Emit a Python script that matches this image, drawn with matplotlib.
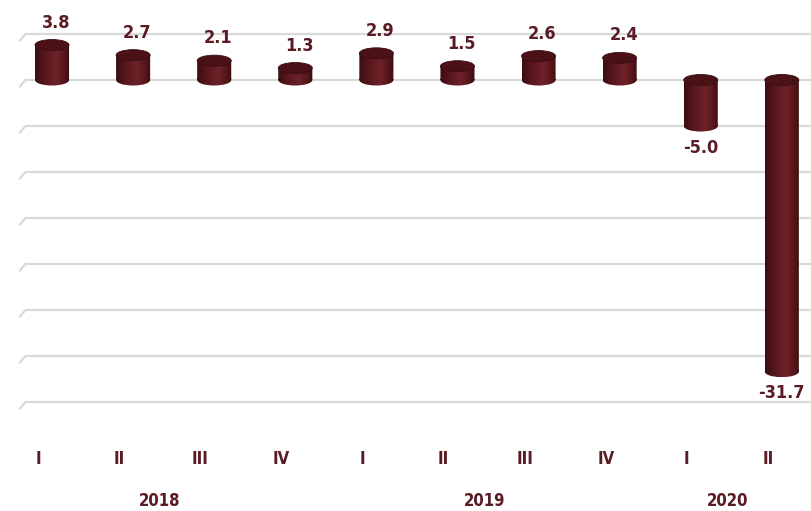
import numpy as np
import matplotlib
matplotlib.use('Agg')
import matplotlib.pyplot as plt
from matplotlib.patches import Ellipse, PathPatch
from matplotlib.path import Path
from matplotlib.transforms import Affine2D, blended_transform_factory
from matplotlib.colors import LinearSegmentedColormap

# data
quarters = ['I', 'II', 'III', 'IV', 'I', 'II', 'III', 'IV', 'I', 'II']
values = [3.8, 2.7, 2.1, 1.3, 2.9, 1.5, 2.6, 2.4, -5.0, -31.7]
years = ['2018', '2019', '2020']
year_centre = [1.5, 5.5, 8.5]
grid_vals = [5, 0, -5, -10, -15, -20, -25, -30, -35]

text_col = '#5a1c24'
fonts = ['DejaVu Sans']
body_cmap = LinearSegmentedColormap.from_list(
    'cyl', [(0, '#3a0d11'), (0.3, '#5a181e'), (0.6, '#6e2228'), (0.85, '#561619'), (1, '#380c10')])

fig = plt.figure(figsize=(8.11, 5.11), dpi=100)
ax = fig.add_axes([20/811, 1-402/511, 791/811, 368/511])
ax.set_xlim(-0.395, 9.36)
ax.set_ylim(-35, 5)
ax.axis('off')

# gridlines with little slanted foot on the left
tr = blended_transform_factory(ax.transAxes, ax.transData)
for g in grid_vals:
    ax.plot([0, 0.007, 1], [g - 0.7, g, g], color='#d9d9d9', lw=1.6,
            transform=tr, clip_on=False, zorder=1)

w = 0.42     # bar width (data units)
eh = 1.2     # ellipse height (data units)
grad = np.linspace(0, 1, 64).reshape(1, -1)

for i, v in enumerate(values):
    x0 = i - w/2
    lo, hi = min(0, v), max(0, v)
    # body = rectangle + bottom ellipse, filled with a horizontal gradient
    rect = Path([(x0, lo), (x0 + w, lo), (x0 + w, hi), (x0, hi), (x0, lo)],
                [Path.MOVETO, Path.LINETO, Path.LINETO, Path.LINETO, Path.CLOSEPOLY])
    ell = Path.unit_circle().transformed(Affine2D().scale(w/2, eh/2).translate(i, lo))
    body = Path.make_compound_path(rect, ell)
    clip = PathPatch(body, transform=ax.transData, facecolor='none', edgecolor='none')
    ax.add_patch(clip)
    im = ax.imshow(grad, cmap=body_cmap, aspect='auto',
                   extent=[x0, x0 + w, lo - eh/2, hi], zorder=3, interpolation='bilinear')
    im.set_clip_path(clip)
    # top cap
    ax.add_patch(Ellipse((i, hi), w, eh, facecolor='#4a1217', edgecolor='#3a0d11',
                         lw=0.6, zorder=4))

    if v > 0:
        ax.annotate(f'{v:.1f}', (i, hi + eh/2), xytext=(4, 17), textcoords='offset pixels',
                    ha='center', va='center', fontsize=13, fontweight='bold', fontstretch='condensed',
                    color=text_col, family=fonts, annotation_clip=False)
    else:
        ax.annotate(f'{v:.1f}', (i, lo - eh/2), xytext=(0, -16), textcoords='offset pixels',
                    ha='center', va='center', fontsize=13, fontweight='bold', fontstretch='condensed',
                    color=text_col, family=fonts, annotation_clip=False)

# category labels (a bit left of the bars, like the 3D original)
tx = blended_transform_factory(ax.transData, ax.transAxes)
for i, q in enumerate(quarters):
    ax.text(i - 0.17, -0.155, q, transform=tx, ha='center', va='center', fontstretch='condensed',
            fontsize=12, color=text_col, family=fonts, fontweight='bold')
for xc, y in zip(year_centre, years):
    ax.text(xc - 0.17, -0.268, y, transform=tx, ha='center', va='center', fontstretch='condensed',
            fontsize=12, color=text_col, family=fonts, fontweight='bold')

fig.savefig('out.png', dpi=100)
